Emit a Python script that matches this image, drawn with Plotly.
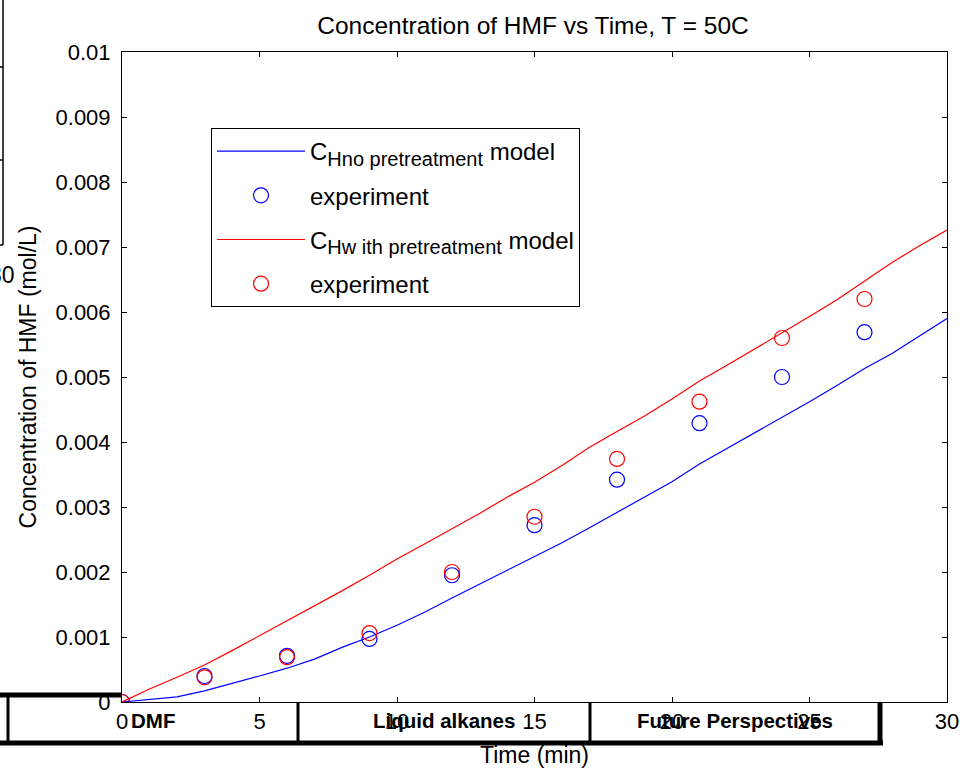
import plotly.graph_objects as go

# model curves at whole minutes
t_model = list(range(0, 31))
c_no_pre = [0, 0.00004, 0.00008, 0.00017, 0.00028, 0.0004, 0.00052, 0.00066, 0.00084, 0.001,
            0.00118, 0.00138, 0.0016, 0.00181, 0.00202, 0.00224, 0.00245, 0.00268, 0.00292, 0.00315,
            0.00339, 0.00366, 0.0039, 0.00413, 0.00437, 0.00462, 0.00487, 0.00513, 0.00536, 0.00563,
            0.0059]
c_with_pre = [0, 0.0002, 0.00038, 0.00057, 0.00079, 0.00102, 0.00124, 0.00147, 0.00171, 0.00195,
              0.0022, 0.00243, 0.00266, 0.0029, 0.00315, 0.00338, 0.00364, 0.00392, 0.00416, 0.0044,
              0.00466, 0.00494, 0.00518, 0.00543, 0.00567, 0.00593, 0.00619, 0.00647, 0.00676, 0.00702,
              0.00726]

# experiment points
t_exp = [0, 3, 6, 9, 12, 15, 18, 21, 24, 27]
exp_no_pre = [0, 0.0004, 0.00071, 0.00097, 0.00195, 0.00272, 0.00342, 0.00429, 0.005, 0.00569]
exp_with_pre = [0, 0.00038, 0.00069, 0.00106, 0.002, 0.00285, 0.00374, 0.00462, 0.0056, 0.0062]

table_labels = ['DMF', 'Liquid alkanes', 'Future Perspectives']

W, H = 965, 770
L, R, T, B = 122, 18, 52, 68
FONT = 'Liberation Sans, Arial, sans-serif'


def px(x):
    return (x - L) / (W - L - R)


def py(y):
    return (H - B - y) / (H - T - B)


def sub_name(sub):
    # matlab draws its subscripts larger than plotly's default 70%
    return 'C<sub><span style="font-size:20px">%s</span></sub> model' % sub


fig = go.Figure()
fig.add_trace(go.Scatter(x=t_model, y=c_no_pre, mode='lines', line=dict(color='#0000ff', width=1.2),
                         name=sub_name('Hno pretreatment'), legendgroup='a'))
fig.add_trace(go.Scatter(x=t_exp, y=exp_no_pre, mode='markers',
                         marker=dict(symbol='circle-open', size=15, color='#0000ff', line=dict(width=1.2)),
                         name='experiment', legendgroup='b'))
fig.add_trace(go.Scatter(x=t_model, y=c_with_pre, mode='lines', line=dict(color='#ff0000', width=1.2),
                         name=sub_name('Hw ith pretreatment'), legendgroup='c'))
fig.add_trace(go.Scatter(x=t_exp, y=exp_with_pre, mode='markers',
                         marker=dict(symbol='circle-open', size=15, color='#ff0000', line=dict(width=1.2)),
                         name='experiment', legendgroup='d'))

axis_style = dict(showline=True, linecolor='black', linewidth=1, mirror='ticks', ticks='inside',
                  ticklen=5, tickcolor='black', showgrid=False, zeroline=False, automargin=False,
                  tickfont=dict(family=FONT, size=22, color='black'))

fig.update_xaxes(range=[0, 30], dtick=5, tick0=0,
                 title=dict(text='Time (min)', font=dict(family=FONT, size=23, color='black'), standoff=13),
                 **axis_style)
fig.update_yaxes(range=[0, 0.01], dtick=0.001, tick0=0, ticklabelstandoff=6,
                 title=dict(text='Concentration of HMF (mol/L)', font=dict(family=FONT, size=23, color='black'),
                            standoff=12),
                 **axis_style)

shapes = []
thick = dict(color='black', width=5)
mid = dict(color='black', width=3)
# overlapping table from a slide underneath
shapes.append(dict(type='line', x0=px(0), x1=px(L), y0=py(695), y1=py(695), line=thick))
shapes.append(dict(type='line', x0=px(0), x1=px(883), y0=py(743), y1=py(743), line=thick))
shapes.append(dict(type='line', x0=px(8), x1=px(8), y0=py(695), y1=py(743), line=mid))
shapes.append(dict(type='line', x0=px(298), x1=px(298), y0=py(702), y1=py(743), line=mid))
shapes.append(dict(type='line', x0=px(590), x1=px(590), y0=py(702), y1=py(743), line=mid))
shapes.append(dict(type='line', x0=px(880), x1=px(880), y0=py(702), y1=py(745), line=thick))
# partial frame at the top-left edge
thin = dict(color='black', width=1.5)
shapes.append(dict(type='line', x0=px(3), x1=px(3), y0=py(0), y1=py(245), line=thin))
shapes.append(dict(type='line', x0=px(0), x1=px(3), y0=py(67), y1=py(67), line=thin))
shapes.append(dict(type='line', x0=px(0), x1=px(3), y0=py(160), y1=py(160), line=thin))
shapes.append(dict(type='line', x0=px(0), x1=px(3), y0=py(245), y1=py(245), line=thin))
for s in shapes:
    s.update(xref='paper', yref='paper', layer='above')

bold = dict(family=FONT, size=20.5, color='black')
annotations = [
    dict(text='<b>%s</b>' % table_labels[0], x=px(129), y=py(720), xanchor='left', yanchor='middle', font=bold),
    dict(text='<b>%s</b>' % table_labels[1], x=px(444), y=py(720), xanchor='center', yanchor='middle', font=bold),
    dict(text='<b>%s</b>' % table_labels[2], x=px(735), y=py(720), xanchor='center', yanchor='middle', font=bold),
    dict(text='30', x=px(17), y=py(275), xanchor='right', yanchor='middle',
         font=dict(family=FONT, size=23, color='black')),
]
for a in annotations:
    a.update(xref='paper', yref='paper', showarrow=False)

fig.update_layout(
    width=W, height=H,
    margin=dict(l=L, r=R, t=T, b=B, autoexpand=False),
    paper_bgcolor='white', plot_bgcolor='white',
    title=dict(text='Concentration of HMF vs Time, T = 50C', x=533 / W, xanchor='center',
               y=1 - 25 / H, yanchor='middle', font=dict(family=FONT, size=24.5, color='black')),
    legend=dict(x=px(211), y=py(128), xanchor='left', yanchor='top', bgcolor='white',
                bordercolor='black', borderwidth=1, font=dict(family=FONT, size=24, color='black'),
                traceorder='grouped', tracegroupgap=10, itemwidth=88),
    shapes=shapes,
    annotations=annotations,
)

# drop the page's default body margin so the figure sits at the window's corner
fig.write_html('out.html', config={'displayModeBar': False},
               post_script="document.body.style.margin='0px';")
